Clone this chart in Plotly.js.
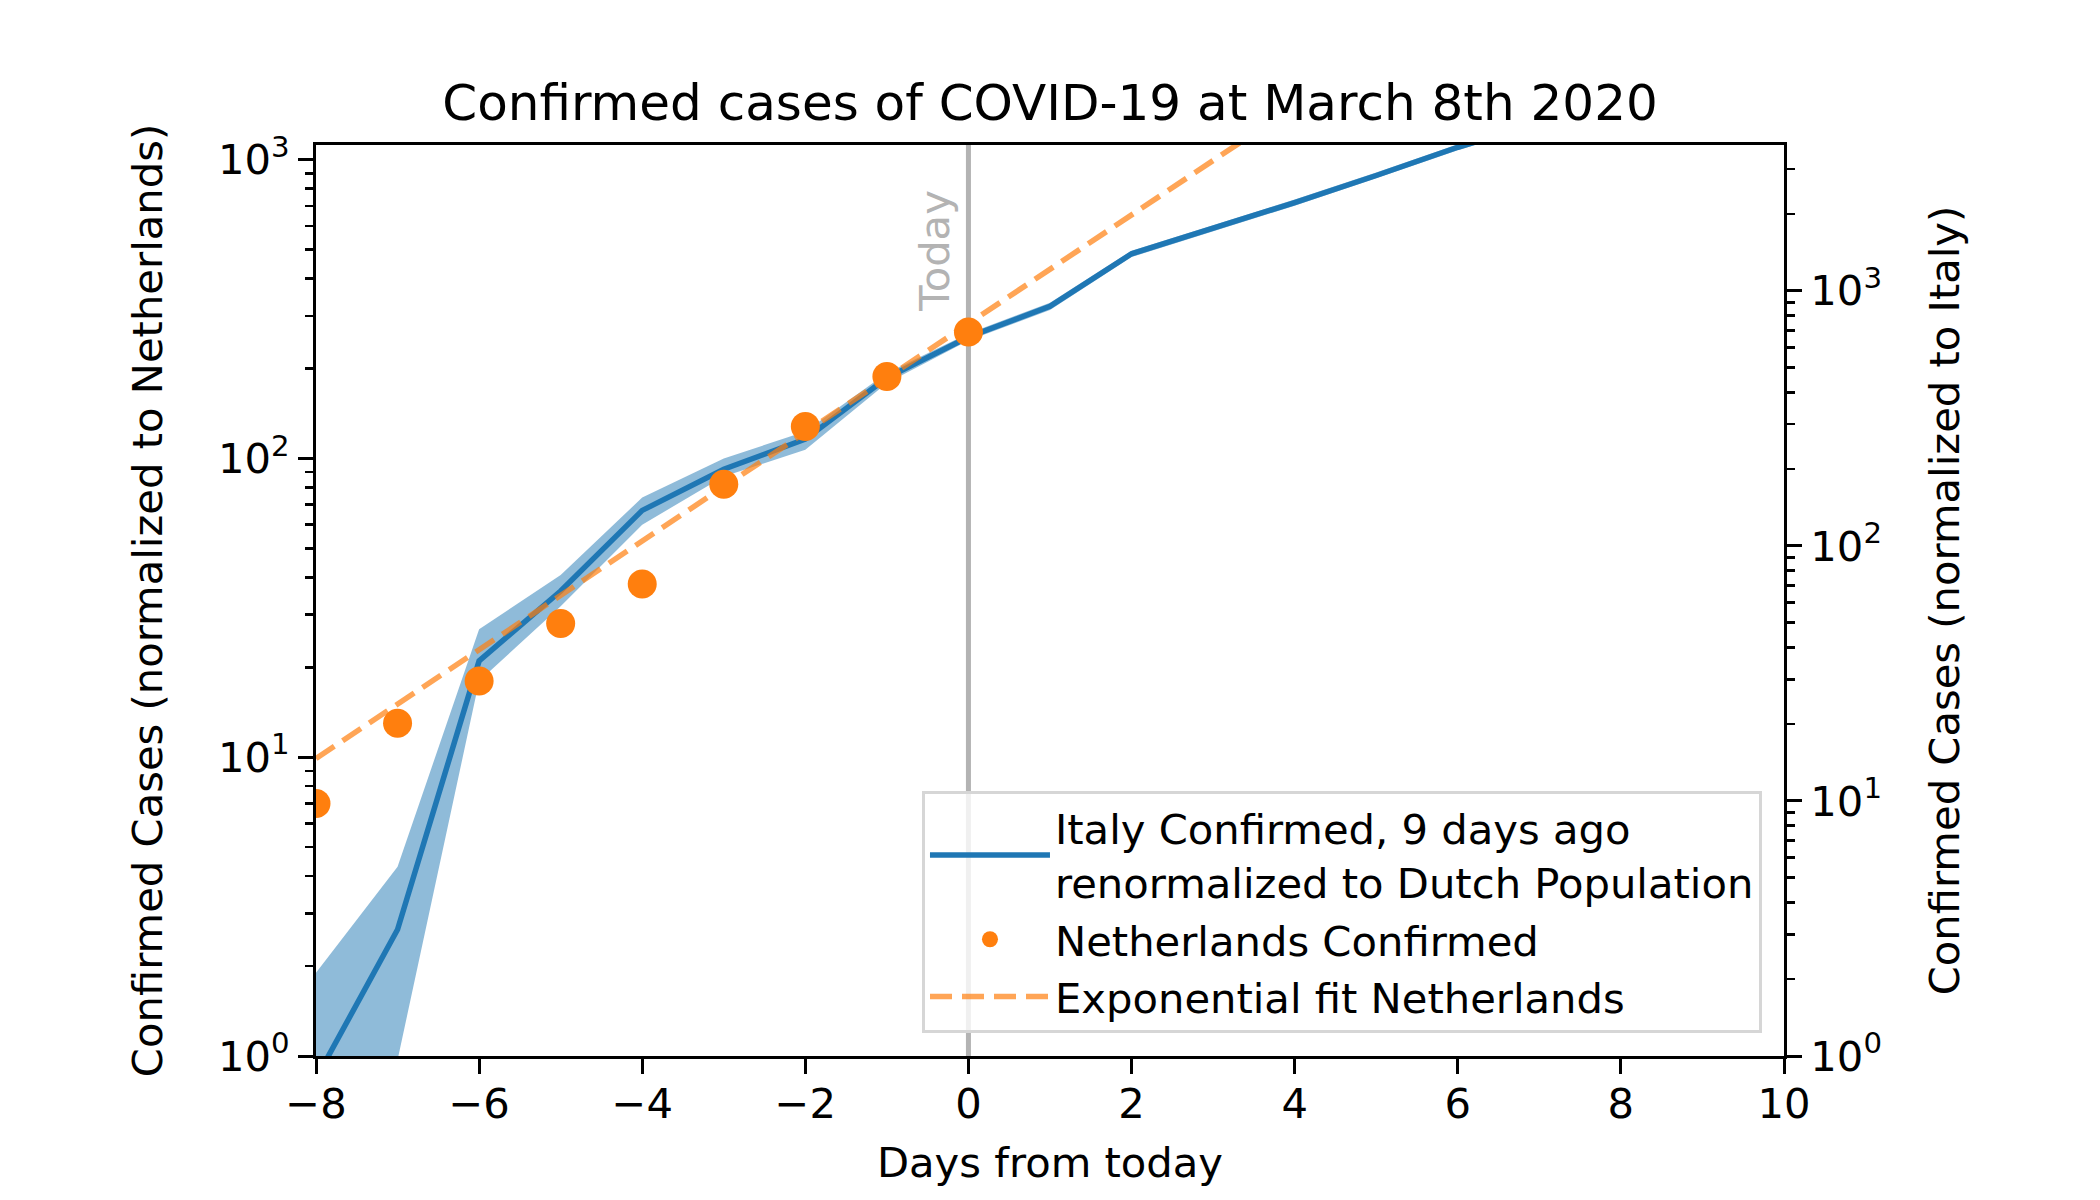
<!DOCTYPE html>
<html>
<head>
<meta charset="utf-8">
<script src="https://cdn.plot.ly/plotly-3.0.1.min.js"></script>
<style>html,body{margin:0;padding:0;background:#fff;}#chart{width:2100px;height:1200px;}</style>
</head>
<body>
<div id="chart"></div>
<script>
// ---- data ----
const italyDays = [-8, -7, -6, -5, -4, -3, -2, -1, 0, 1, 2, 3, 4, 5, 6, 7];
const italyCases = [0.84, 2.65, 21, 36, 67, 92, 116, 186, 255, 323, 484, 590, 718, 885, 1100, 1330];
const italyUpper = [1.9, 4.3, 26.8, 40.7, 74, 100, 123, 193, 262, 332, 496, 604, 735, 905, 1125, 1360];
const italyLower = [0.3, 0.97, 18, 32, 60, 87, 107, 179, 248, 314, 472, 576, 701, 866, 1075, 1300];

const nlDays = [-8, -7, -6, -5, -4, -3, -2, -1, 0];
const nlCases = [7, 13, 18, 28, 38, 82, 128, 188, 265];

const fitDays = [-8, 4];
const fitCases = [9.9, 1510];

const xTicks = [-8, -6, -4, -2, 0, 2, 4, 6, 8, 10];
const yTickVals = [1, 10, 100, 1000];
const yTickText = ['10<sup>0</sup>', '10<sup>1</sup>', '10<sup>2</sup>', '10<sup>3</sup>'];
const yMinorVals = [2,3,4,5,6,7,8,9,20,30,40,50,60,70,80,90,200,300,400,500,600,700,800,900,2000,3000];

const seriesNames = ['Italy Confirmed, 9 days ago<br>renormalized to Dutch Population', 'Netherlands Confirmed', 'Exponential fit Netherlands'];

// ---- styling ----
const FONT = 'DejaVu Sans, Noto Sans, sans-serif';
const FS = 41.7;
const C0 = '#1f77b4';
const C1 = '#ff7f0e';

const traces = [
  {x: italyDays, y: italyLower, mode: 'lines', line: {width: 0, color: C0}, showlegend: false, hoverinfo: 'skip'},
  {x: italyDays, y: italyUpper, mode: 'lines', line: {width: 0, color: C0}, fill: 'tonexty', fillcolor: 'rgba(31,119,180,0.5)', showlegend: false, hoverinfo: 'skip'},
  {x: italyDays, y: italyCases, mode: 'lines', name: seriesNames[0], line: {color: C0, width: 5.5}, legendrank: 1},
  {x: fitDays, y: fitCases, mode: 'lines', name: seriesNames[2], line: {color: 'rgba(255,127,14,0.7)', width: 5.5, dash: '22px,10px'}, legendrank: 3},
  {x: nlDays, y: nlCases, mode: 'markers', name: seriesNames[1], marker: {color: C1, size: 29}, legendrank: 2},
  {x: nlDays, y: nlCases, yaxis: 'y2', mode: 'markers', marker: {opacity: 0}, showlegend: false, hoverinfo: 'skip'}
];

const yCommon = {
  type: 'log', tickmode: 'array', tickvals: yTickVals, ticktext: yTickText,
  ticks: 'outside', ticklen: 15, tickwidth: 3, tickcolor: '#000',
  showline: true, linecolor: '#000', linewidth: 3, showgrid: false, zeroline: false,
  tickfont: {family: FONT, size: FS, color: '#000'},
  minor: {tickmode: 'array', tickvals: yMinorVals, ticks: 'outside', ticklen: 8, tickwidth: 2.5, tickcolor: '#000', showgrid: false}
};

const layout = {
  width: 2100, height: 1200,
  margin: {l: 316, r: 316, t: 145, b: 144},
  paper_bgcolor: '#fff', plot_bgcolor: '#fff',
  font: {family: FONT, size: FS, color: '#000'},
  title: {text: 'Confirmed cases of COVID-19 at March 8th 2020', font: {family: FONT, size: 50, color: '#000'},
          x: 0.5, xanchor: 'center', y: 0.915, yanchor: 'middle', yref: 'container'},
  xaxis: {
    range: [-8, 10], tickmode: 'array', tickvals: xTicks,
    ticks: 'outside', ticklen: 15, tickwidth: 3, tickcolor: '#000',
    showline: true, linecolor: '#000', linewidth: 3, mirror: true, showgrid: false, zeroline: false,
    tickfont: {family: FONT, size: FS, color: '#000'}, ticklabelstandoff: -6,
    title: {text: 'Days from today', font: {family: FONT, size: FS, color: '#000'}, standoff: 21}
  },
  yaxis: Object.assign({}, yCommon, {
    range: [0, 3.049],
    title: {text: 'Confirmed Cases (normalized to Netherlands)', font: {family: FONT, size: FS, color: '#000'}, standoff: 43}
  }),
  yaxis2: Object.assign({}, yCommon, {
    range: [0, 3.572], overlaying: 'y', side: 'right', anchor: 'x',
    title: {text: 'Confirmed Cases (normalized to Italy)', font: {family: FONT, size: FS, color: '#000'}, standoff: 49}
  }),
  shapes: [
    {type: 'line', xref: 'x', yref: 'paper', x0: 0, x1: 0, y0: 0, y1: 1, line: {color: '#b3b3b3', width: 5}, layer: 'below'}
  ],
  annotations: [
    {text: 'Today', xref: 'x', yref: 'paper', x: -0.42, y: 0.815, xanchor: 'center', yanchor: 'bottom',
     textangle: -90, showarrow: false, font: {family: FONT, size: FS, color: '#b3b3b3'}}
  ],
  legend: {
    x: 0.985, xanchor: 'right', y: 0.025, yanchor: 'bottom', xref: 'paper', yref: 'paper',
    bgcolor: 'rgba(255,255,255,0.8)', bordercolor: '#d6d6d6', borderwidth: 3,
    font: {family: FONT, size: FS, color: '#000'}, traceorder: 'normal', itemwidth: 120
  },
  showlegend: true
};

Plotly.newPlot('chart', traces, layout, {staticPlot: true, displayModeBar: false});
</script>
</body>
</html>
